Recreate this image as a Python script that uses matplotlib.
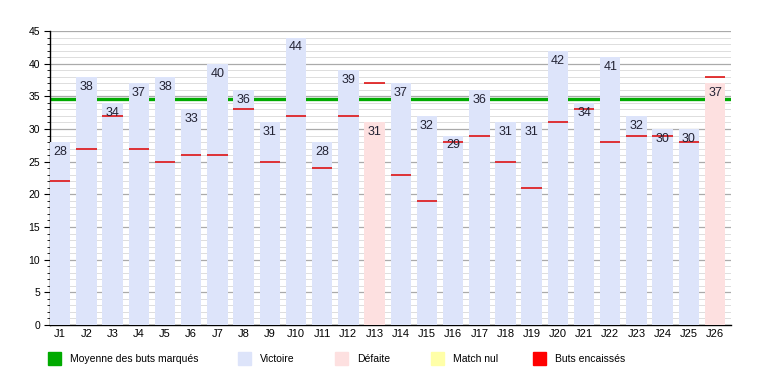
import numpy as np
import matplotlib.pyplot as plt
from matplotlib.patches import Rectangle

plt.rcParams['font.family'] = ['Liberation Sans', 'DejaVu Sans']

journees = ['J%d' % i for i in range(1, 27)]
marques = [28, 38, 34, 37, 38, 33, 40, 36, 31, 44, 28, 39, 31,
           37, 32, 29, 36, 31, 31, 42, 34, 41, 32, 30, 30, 37]
encaisses = [22, 27, 32, 27, 25, 26, 26, 33, 25, 32, 24, 32, 37,
             23, 19, 28, 29, 25, 21, 31, 33, 28, 29, 29, 28, 38]

c_vic = '#dde4fa'
c_def = '#fde0e0'
c_nul = '#ffffa8'
c_moy = '#00aa00'
c_enc = '#ff0000'

moyenne = np.mean(marques)
x = np.arange(len(journees))
couleurs = []
for m, e in zip(marques, encaisses):
    if m > e:
        couleurs.append(c_vic)
    elif m < e:
        couleurs.append(c_def)
    else:
        couleurs.append(c_nul)

fig = plt.figure(figsize=(7.6, 3.75), dpi=100)
ax = fig.add_axes([50/760, 50/375, 681/760, 294/375])

w = 0.78
ax.bar(x, marques, width=w, color=couleurs, zorder=3)
ax.axhline(moyenne, color=c_moy, lw=2.4, zorder=2)
ax.hlines(encaisses, x - w/2, x + w/2, color='#dd0000', lw=1.1, zorder=4)
for xi, m in zip(x, marques):
    ax.text(xi, m - 0.6, str(m), ha='center', va='top', fontsize=9,
            color='#222233', zorder=5)

ax.set_xlim(-w/2, len(x) - w/2)
ax.set_ylim(0, 45)
ax.set_yticks(np.arange(0, 46, 5))
ax.set_yticks(np.arange(0, 46, 1), minor=True)
ax.grid(axis='y', which='major', color='#aaaaaa', lw=0.9, zorder=0)
ax.grid(axis='y', which='minor', color='#dddddd', lw=0.7, zorder=0)
ax.set_xticks(x)
ax.set_xticklabels(journees, fontsize=8)
ax.tick_params(axis='x', length=0, pad=3)
ax.tick_params(axis='y', which='major', length=4, labelsize=7.5, pad=3)
ax.tick_params(axis='y', which='minor', length=2)
for s in ['top', 'right']:
    ax.spines[s].set_visible(False)
ax.spines['left'].set_linewidth(1)
ax.spines['bottom'].set_linewidth(1)

legende = [(c_moy, 'Moyenne des buts marqués', 48),
           (c_vic, 'Victoire', 238),
           (c_def, 'Défaite', 335),
           (c_nul, 'Match nul', 431),
           (c_enc, 'Buts encaissés', 533)]
for col, lab, px in legende:
    fig.patches.append(Rectangle((px/760, (375-365)/375), 13/760, 13/375,
                                 transform=fig.transFigure, color=col))
    fig.text((px + 22)/760, (375-359)/375, lab, fontsize=7.5, va='center')

fig.savefig('out.png', dpi=100)
